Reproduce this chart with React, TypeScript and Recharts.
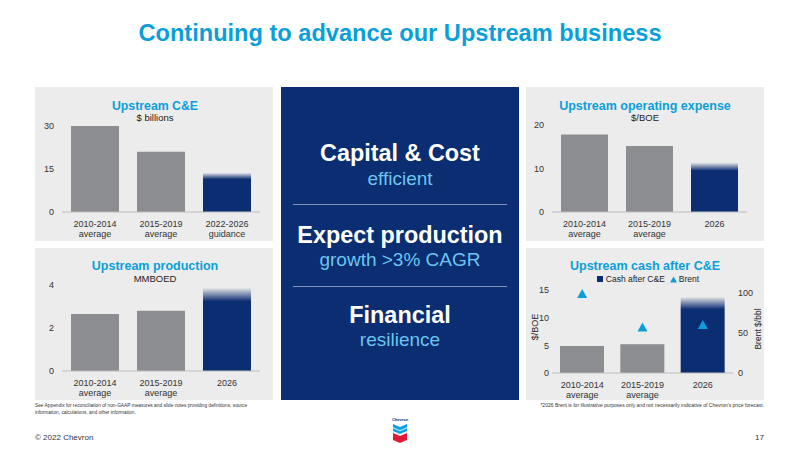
import {
  BarChart,
  Bar,
  XAxis,
  YAxis,
  ComposedChart,
  Scatter,
  Cell,
} from "recharts";

const capexCategories = ["2010-2014\naverage", "2015-2019\naverage", "2022-2026\nguidance"];
const capexValues = [30, 21, 13.6];
const capexTicks = [0, 15, 30];

const productionCategories = ["2010-2014\naverage", "2015-2019\naverage", "2026"];
const productionValues = [2.65, 2.8, 3.85];
const productionTicks = [0, 2, 4];

const opexCategories = ["2010-2014\naverage", "2015-2019\naverage", "2026"];
const opexValues = [17.8, 15.2, 11.3];
const opexTicks = [0, 10, 20];

const cashCategories = ["2010-2014\naverage", "2015-2019\naverage", "2026"];
const cashValues = [4.9, 5.2, 13.7];
const brentValues = [99, 57, 60];
const cashTicks = [0, 5, 10, 15];
const brentTicks = [0, 50, 100];

const FONT = "'Liberation Sans', Arial, Helvetica, sans-serif";
const NAVY = "#0b2d71";
const GRAY = "#8b8d90";
const BLUE = "#0a9fda";
const LIGHT = "#6cc6f0";
const PANEL = "#ececec";

const TwoLineTick = (props: any) => {
  const { x, y, payload } = props;
  const lines = String(payload.value).split("\n");
  return (
    <text x={x} y={y} textAnchor="middle" fontSize={9} fill="#333" fontFamily={FONT}>
      {lines.map((l, i) => (
        <tspan key={i} x={x} dy={i === 0 ? "0.75em" : 10}>
          {l}
        </tspan>
      ))}
    </text>
  );
};

const Triangle = (props: any) => {
  const { cx, cy } = props;
  return (
    <polygon
      points={`${cx},${cy - 5} ${cx + 5},${cy + 4} ${cx - 5},${cy + 4}`}
      fill={BLUE}
    />
  );
};

const Fade = ({ id }: { id: string }) => (
  <defs>
    <linearGradient id={id} x1="0" y1="0" x2="0" y2="1">
      <stop offset="0" stopColor={NAVY} stopOpacity={0.05} />
      <stop offset="0.16" stopColor={NAVY} stopOpacity={1} />
      <stop offset="1" stopColor={NAVY} stopOpacity={1} />
    </linearGradient>
  </defs>
);

function Label({ cx, cy, w = 300, size, bold, color, children }: any) {
  return (
    <div
      style={{
        position: "absolute",
        left: cx - w / 2,
        top: cy - size * 0.6,
        width: w,
        height: size * 1.2,
        lineHeight: `${size * 1.2}px`,
        textAlign: "center",
        fontSize: size,
        fontWeight: bold ? 700 : 400,
        color,
        whiteSpace: "nowrap",
      }}
    >
      {children}
    </div>
  );
}

function SimpleBarPanel({
  left,
  top,
  height,
  categories,
  values,
  ticks,
  gradId,
  margin,
  yWidth,
  xHeight,
  barSize,
}: any) {
  const data = categories.map((c: string, i: number) => ({ name: c, value: values[i] }));
  return (
    <div style={{ position: "absolute", left, top, width: 238, height, background: PANEL }}>
      <BarChart width={238} height={height} data={data} margin={margin}>
        <Fade id={gradId} />
        <XAxis
          dataKey="name"
          height={xHeight}
          tickLine={false}
          axisLine={{ stroke: "#bdbdbd" }}
          tick={<TwoLineTick />}
          interval={0}
        />
        <YAxis
          width={yWidth}
          domain={[ticks[0], ticks[ticks.length - 1]]}
          ticks={ticks}
          axisLine={false}
          tickLine={false}
          tick={{ fontSize: 9, fill: "#333", fontFamily: FONT }}
        />
        <Bar dataKey="value" barSize={barSize} isAnimationActive={false}>
          {data.map((_: any, i: number) => (
            <Cell key={i} fill={i === data.length - 1 ? `url(#${gradId})` : GRAY} />
          ))}
        </Bar>
      </BarChart>
    </div>
  );
}

function CashPanel() {
  const data = cashCategories.map((c, i) => ({ name: c, cash: cashValues[i], brent: brentValues[i] }));
  return (
    <div style={{ position: "absolute", left: 526, top: 248, width: 238, height: 152, background: PANEL }}>
      <ComposedChart width={238} height={152} data={data} margin={{ top: 42, right: 0, bottom: 0, left: 0 }}>
        <Fade id="fadeCash" />
        <XAxis
          dataKey="name"
          height={27}
          tickLine={false}
          axisLine={{ stroke: "#bdbdbd" }}
          tick={<TwoLineTick />}
          interval={0}
        />
        <YAxis
          yAxisId="left"
          width={26}
          domain={[0, 15]}
          ticks={cashTicks}
          axisLine={false}
          tickLine={false}
          tickSize={0}
          tickMargin={3}
          tick={{ fontSize: 9, fill: "#333", fontFamily: FONT }}
        />
        <YAxis
          yAxisId="right"
          orientation="right"
          width={31}
          domain={[0, 104]}
          ticks={brentTicks}
          axisLine={false}
          tickLine={false}
          tickSize={0}
          tickMargin={5}
          tick={{ fontSize: 9, fill: "#333", fontFamily: FONT }}
        />
        <Bar yAxisId="left" dataKey="cash" barSize={44} isAnimationActive={false}>
          {data.map((_, i) => (
            <Cell key={i} fill={i === data.length - 1 ? "url(#fadeCash)" : GRAY} />
          ))}
        </Bar>
        <Scatter yAxisId="right" dataKey="brent" shape={<Triangle />} isAnimationActive={false} />
      </ComposedChart>
    </div>
  );
}

function Logo() {
  return (
    <svg style={{ position: "absolute", left: 388, top: 416 }} width={24} height={30}>
      <text x={12} y={5} textAnchor="middle" fontSize={4} fill={NAVY} fontFamily={FONT} fontWeight={700}>
        Chevron
      </text>
      <polygon points="5,8 12,11 19,8 19,15 12,18 5,15" fill={BLUE} />
      <polygon points="5,11 12,14 19,11 19,12.5 12,15.5 5,12.5" fill="#ffffff" opacity={0.6} />
      <polygon points="5,17 12,20 19,17 19,24 12,27 5,24" fill="#e21836" />
    </svg>
  );
}

export default function App() {
  return (
    <div
      style={{
        position: "absolute",
        left: 0,
        top: 0,
        width: 800,
        height: 450,
        background: "#fff",
        fontFamily: FONT,
        overflow: "hidden",
      }}
    >
      <Label cx={400} cy={33} w={760} size={23.6} bold color={BLUE}>
        Continuing to advance our Upstream business
      </Label>

      <SimpleBarPanel
        left={35}
        top={87}
        height={154}
        categories={capexCategories}
        values={capexValues}
        ticks={capexTicks}
        gradId="fadeCapex"
        margin={{ top: 39, right: 13, bottom: 0, left: 0 }}
        yWidth={27}
        xHeight={29}
        barSize={48}
      />
      <SimpleBarPanel
        left={35}
        top={248}
        height={152}
        categories={productionCategories}
        values={productionValues}
        ticks={productionTicks}
        gradId="fadeProd"
        margin={{ top: 37, right: 13, bottom: 0, left: 0 }}
        yWidth={27}
        xHeight={29}
        barSize={48}
      />
      <SimpleBarPanel
        left={526}
        top={87}
        height={154}
        categories={opexCategories}
        values={opexValues}
        ticks={opexTicks}
        gradId="fadeOpex"
        margin={{ top: 38, right: 17, bottom: 0, left: 0 }}
        yWidth={26}
        xHeight={29}
        barSize={47}
      />
      <CashPanel />

      {/* panel titles */}
      <Label cx={155} cy={106} size={12.3} bold color={BLUE}>Upstream C&amp;E</Label>
      <Label cx={155} cy={118} size={9.5} color="#222">$ billions</Label>
      <Label cx={155} cy={266} size={12.5} bold color={BLUE}>Upstream production</Label>
      <Label cx={155} cy={279} size={9.5} color="#222">MMBOED</Label>
      <Label cx={645} cy={106} size={12.5} bold color={BLUE}>Upstream operating expense</Label>
      <Label cx={645} cy={118} size={9.5} color="#222">$/BOE</Label>
      <Label cx={645} cy={266} size={12.5} bold color={BLUE}>Upstream cash after C&amp;E</Label>
      <div
        style={{
          position: "absolute",
          left: 548,
          top: 274,
          width: 200,
          display: "flex",
          justifyContent: "center",
          alignItems: "center",
          fontSize: 8.5,
          color: "#222",
          lineHeight: "10px",
        }}
      >
        <span style={{ width: 6, height: 6, background: NAVY, display: "inline-block", marginRight: 3 }} />
        <span>Cash after C&amp;E</span>
        <svg width={7} height={7} style={{ marginLeft: 5, marginRight: 2 }}>
          <polygon points="3.5,0.5 7,6.5 0,6.5" fill={BLUE} />
        </svg>
        <span>Brent</span>
      </div>
      <div
        style={{
          position: "absolute",
          left: 535 - 20,
          top: 327 - 6,
          width: 40,
          height: 12,
          lineHeight: "12px",
          textAlign: "center",
          fontSize: 9,
          color: "#222",
          transform: "rotate(-90deg)",
        }}
      >
        $/BOE
      </div>
      <div
        style={{
          position: "absolute",
          left: 758 - 30,
          top: 329 - 6,
          width: 60,
          height: 12,
          lineHeight: "12px",
          textAlign: "center",
          fontSize: 8.5,
          color: "#222",
          transform: "rotate(-90deg)",
        }}
      >
        Brent $/bbl
      </div>

      {/* center panel */}
      <div style={{ position: "absolute", left: 281, top: 87, width: 238, height: 313, background: NAVY }} />
      <div style={{ position: "absolute", left: 293, top: 204, width: 214, height: 1, background: "#8393bb" }} />
      <div style={{ position: "absolute", left: 293, top: 286, width: 214, height: 1, background: "#8393bb" }} />
      <Label cx={400} cy={153} size={23.4} bold color="#fff">Capital &amp; Cost</Label>
      <Label cx={400} cy={179} size={19} color={LIGHT}>efficient</Label>
      <Label cx={400} cy={235} size={23.4} bold color="#fff">Expect production</Label>
      <Label cx={400} cy={260} size={19} color={LIGHT}>growth &gt;3% CAGR</Label>
      <Label cx={400} cy={315} size={23.4} bold color="#fff">Financial</Label>
      <Label cx={400} cy={340} size={19} color={LIGHT}>resilience</Label>

      {/* footnotes */}
      <div style={{ position: "absolute", left: 35, top: 402, fontSize: 4.8, lineHeight: "7px", color: "#333", whiteSpace: "nowrap" }}>
        See Appendix for reconciliation of non-GAAP measures and slide notes providing definitions, source
        <br />
        information, calculations, and other information.
      </div>
      <div
        style={{
          position: "absolute",
          right: 36,
          top: 402,
          fontSize: 5,
          lineHeight: "7px",
          color: "#333",
          whiteSpace: "nowrap",
        }}
      >
        *2026 Brent is for illustrative purposes only and not necessarily indicative of Chevron's price forecast.
      </div>
      <div style={{ position: "absolute", left: 35, top: 433, fontSize: 8, lineHeight: "10px", color: "#333" }}>
        © 2022 Chevron
      </div>
      <div style={{ position: "absolute", right: 36, top: 433, fontSize: 8, lineHeight: "10px", color: "#333" }}>
        17
      </div>
      <Logo />
    </div>
  );
}
